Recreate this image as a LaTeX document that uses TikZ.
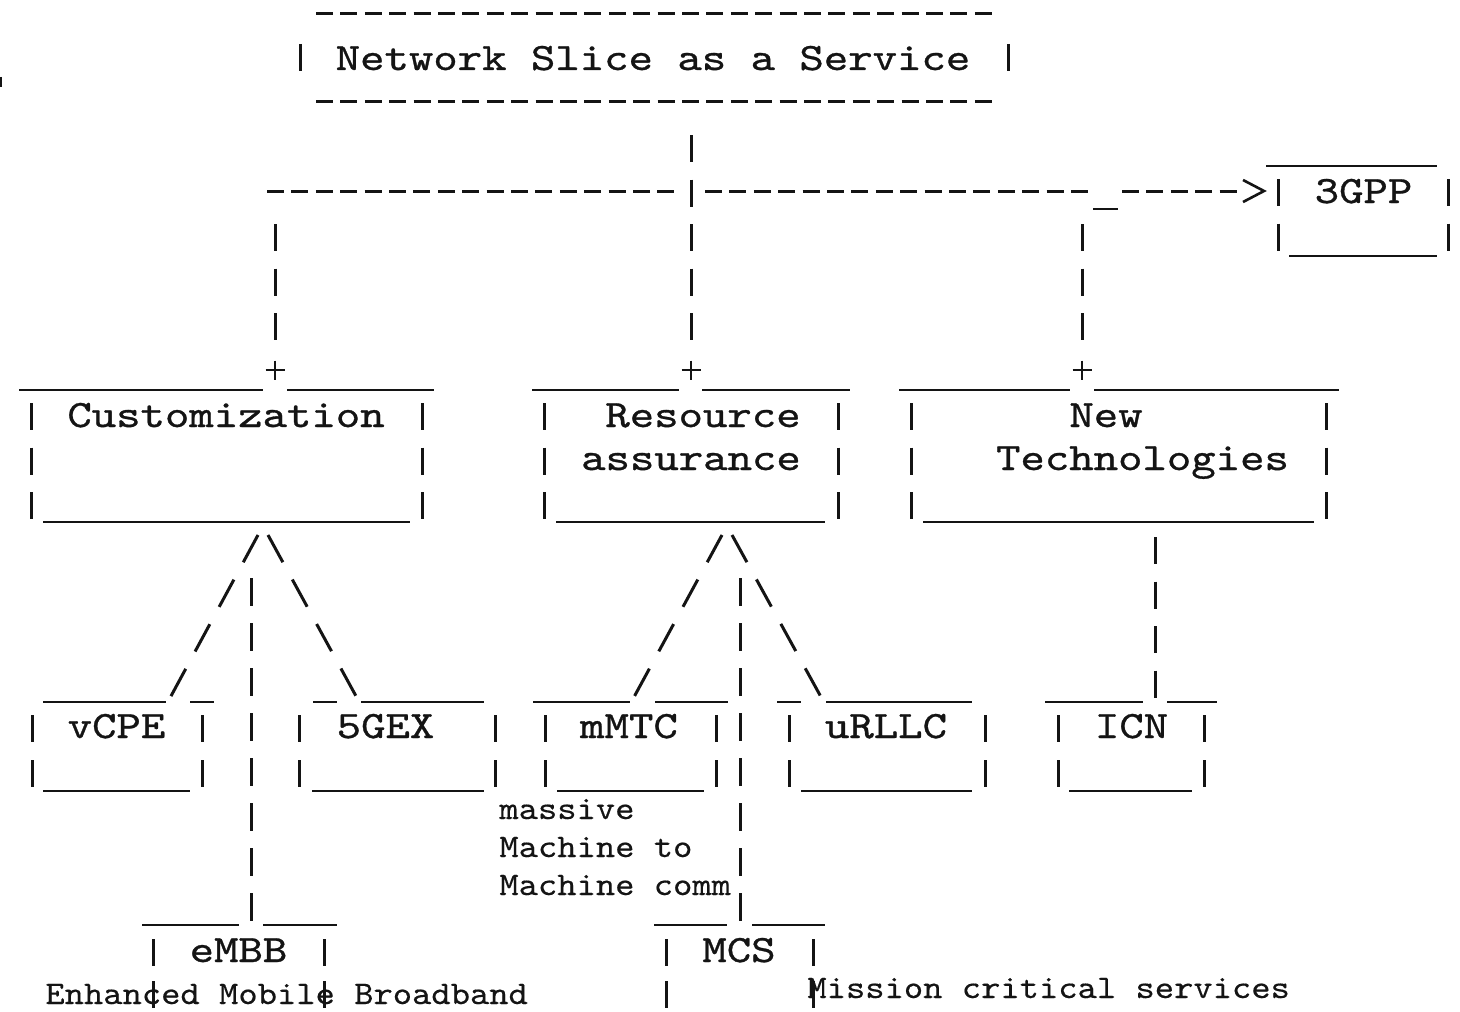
\documentclass[tikz,border=0pt]{standalone}
\usepackage{fontspec}
\newfontfamily\courA{lmmono10-regular.otf}[FakeStretch=1.2, FakeBold=0.8]
\newfontfamily\courB{lmmono10-regular.otf}[FakeStretch=1.114, FakeBold=0.3]
\definecolor{ink}{RGB}{20,20,20}
\begin{document}
\begin{tikzpicture}[x=0.5pt,y=-0.5pt,
  ascii/.style={line width=1.5pt, draw=ink},
  vbar/.style={ascii, dash pattern=on 13.5pt off 8.75pt},
  vbarw/.style={ascii, dash pattern=on 14pt off 8.5pt},
  vbarl/.style={ascii, dash pattern=on 13.5pt off 9pt},
  vbars/.style={ascii, dash pattern=on 13.5pt off 7.5pt},
  hdash/.style={ascii, dash pattern=on 8.5pt off 3.7pt},
  uline/.style={ascii, line width=1.3pt},
  slant/.style={ascii, dash pattern=on 15.5pt off 9.85pt},
  plus/.style={ascii, line width=1.4pt},
  lbl/.style={font=\courA\fontsize{19.37pt}{22pt}\selectfont, anchor=base, inner sep=0pt, text=ink},
  note/.style={font=\courB\fontsize{16.5pt}{19pt}\selectfont, anchor=base west, inner sep=0pt, text=ink}]
\fill[white] (0,0) rectangle (1460,1011);
\useasboundingbox (0,0) rectangle (1460,1011);

% stray mark at the left edge
\draw[ascii] (0.8,77) -- (0.8,87);

% ---------- top box ----------
\node[lbl] (nsaas) at (653,70) {Network Slice as a Service};
\draw[hdash] (316,14) -- (992,14);
\draw[hdash] (316,102) -- (992,102);
\draw[ascii] (300,44) -- (300,71);
\draw[ascii] (1008,44) -- (1008,71);

% ---------- junctions ----------
\foreach \n/\x in {pc/275,pr/691,pn/1082}{\coordinate (\n) at (\x,370);}
\foreach \n in {pc,pr,pn}{\draw[plus] (\n) +(-9.5,0) -- +(9.5,0) +(0,-9.5) -- +(0,9.5);}

\coordinate (nsout) at (691,135);
\coordinate (hub) at (691,191);
\coordinate (hl) at (267,191);
\coordinate (hr) at (705,191);
\coordinate (cdown) at (275,224);
\coordinate (ndown) at (1082,224);

\draw[vbar, shorten >=6.5pt] (nsout) -- (pr);
\draw[hdash] (hl) -- (675,191);
\draw[hdash] (hr) -- (1088,191);
\draw[uline] (1093,209) -- (1118,209);
\draw[hdash] (1122,191) -- (1237,191);
\draw[ascii, line width=1.3pt, line join=miter] (1243,180) -- (1264,191) -- (1243,202);
\draw[vbar, shorten >=6.5pt] (cdown) -- (pc);
\draw[vbar, shorten >=6.5pt] (ndown) -- (pn);

% ---------- 3GPP ----------
\node[lbl] (g3) at (1363.5,203) {3GPP};
\draw[uline] (1266,166) -- (1437,166);
\draw[vbar] (1278,179) -- (1278,252);
\draw[vbar] (1448,179) -- (1448,252);
\draw[uline] (1289,256) -- (1437,256);

% ---------- Customization ----------
\node[lbl] (cust) at (226,427) {Customization};
\draw[uline] (19,390) -- (263,390);
\draw[uline] (287,390) -- (434,390);
\draw[vbar] (31,403) -- (31,519);
\draw[vbar] (422,403) -- (422,519);
\draw[uline] (43,522) -- (410,522);

% ---------- Resource assurance ----------
\node[lbl] (res1) at (703,427) {Resource};
\node[lbl] (res2) at (691,470) {assurance};
\draw[uline] (532,390) -- (679,390);
\draw[uline] (702,390) -- (850,390);
\draw[vbar] (544,403) -- (544,519);
\draw[vbar] (838,403) -- (838,519);
\draw[uline] (556,522) -- (825,522);

% ---------- New Technologies ----------
\node[lbl] (new1) at (1106,427) {New};
\node[lbl] (new2) at (1142.5,470) {Technologies};
\draw[uline] (899,390) -- (1070,390);
\draw[uline] (1094,390) -- (1339,390);
\draw[vbar] (911,403) -- (911,519);
\draw[vbar] (1326,403) -- (1326,519);
\draw[uline] (923,522) -- (1314,522);

% ---------- fans ----------
\coordinate (capl) at (258,535);
\coordinate (capr) at (268,535);
\coordinate (vcpein) at (170.5,697);
\coordinate (gexin) at (356.5,697);
\coordinate (cmid) at (251,578);
\coordinate (embbin) at (251,921);
\draw[slant] (capl) -- (vcpein);
\draw[slant] (capr) -- (gexin);
\draw[vbarw] (cmid) -- (embbin);

\coordinate (rapl) at (722,535);
\coordinate (rapr) at (732,535);
\coordinate (mmtcin) at (634,697);
\coordinate (urllcin) at (821,697);
\coordinate (rmid) at (740,578);
\coordinate (mcsin) at (740,921);
\draw[slant] (rapl) -- (mmtcin);
\draw[slant] (rapr) -- (urllcin);
\draw[vbarw] (rmid) -- (mcsin);

\coordinate (nmid) at (1155,537);
\coordinate (icnin) at (1155,698);
\draw[vbar] (nmid) -- (icnin);

% ---------- vCPE ----------
\node[lbl] (vcpe) at (116.5,738) {vCPE};
\draw[uline] (43,702) -- (166,702);
\draw[uline] (190,702) -- (214,702);
\draw[vbarl] (32,715) -- (32,788);
\draw[vbarl] (202,715) -- (202,788);
\draw[uline] (43,791) -- (190,791);

% ---------- 5GEX ----------
\node[lbl] (gex) at (385.5,738) {5GEX};
\draw[uline] (313,702) -- (337,702);
\draw[uline] (361,702) -- (484,702);
\draw[vbarl] (299,715) -- (299,788);
\draw[vbarl] (495,715) -- (495,788);
\draw[uline] (312,791) -- (484,791);

% ---------- mMTC ----------
\node[lbl] (mmtc) at (629,738) {mMTC};
\draw[uline] (533,702) -- (630,702);
\draw[uline] (655,702) -- (728,702);
\draw[vbarl] (545,715) -- (545,788);
\draw[vbarl] (716,715) -- (716,788);
\draw[uline] (557,791) -- (704,791);

% ---------- uRLLC ----------
\node[lbl] (urllc) at (886,738) {uRLLC};
\draw[uline] (777,702) -- (801,702);
\draw[uline] (826,702) -- (972,702);
\draw[vbarl] (789,715) -- (789,788);
\draw[vbarl] (985,715) -- (985,788);
\draw[uline] (801,791) -- (972,791);

% ---------- ICN ----------
\node[lbl] (icn) at (1131.5,738) {ICN};
\draw[uline] (1045,702) -- (1143,702);
\draw[uline] (1167,702) -- (1217,702);
\draw[vbarl] (1058,715) -- (1058,788);
\draw[vbarl] (1204,715) -- (1204,788);
\draw[uline] (1069,791) -- (1192,791);

% ---------- eMBB ----------
\node[lbl] (embb) at (238.5,962) {eMBB};
\draw[uline] (142,925) -- (239,925);
\draw[uline] (263,925) -- (337,925);
\draw[vbars] (153,939) -- (153,1011);
\draw[vbars] (324,939) -- (324,1011);

% ---------- MCS ----------
\node[lbl] (mcs) at (739,962) {MCS};
\draw[uline] (654,925) -- (727,925);
\draw[uline] (752,925) -- (825,925);
\draw[vbars] (666,939) -- (666,1011);
\draw[vbars] (813,939) -- (813,1011);

% ---------- notes ----------
\node[note] (mm1) at (499,819) {massive};
\node[note] (mm2) at (499,857) {Machine to};
\node[note] (mm3) at (499,895) {Machine comm};
\node[note] (embbn) at (45,1004) {Enhanced Mobile Broadband};
\node[note] (mcsn) at (807,998) {Mission critical services};
\end{tikzpicture}
\end{document}
